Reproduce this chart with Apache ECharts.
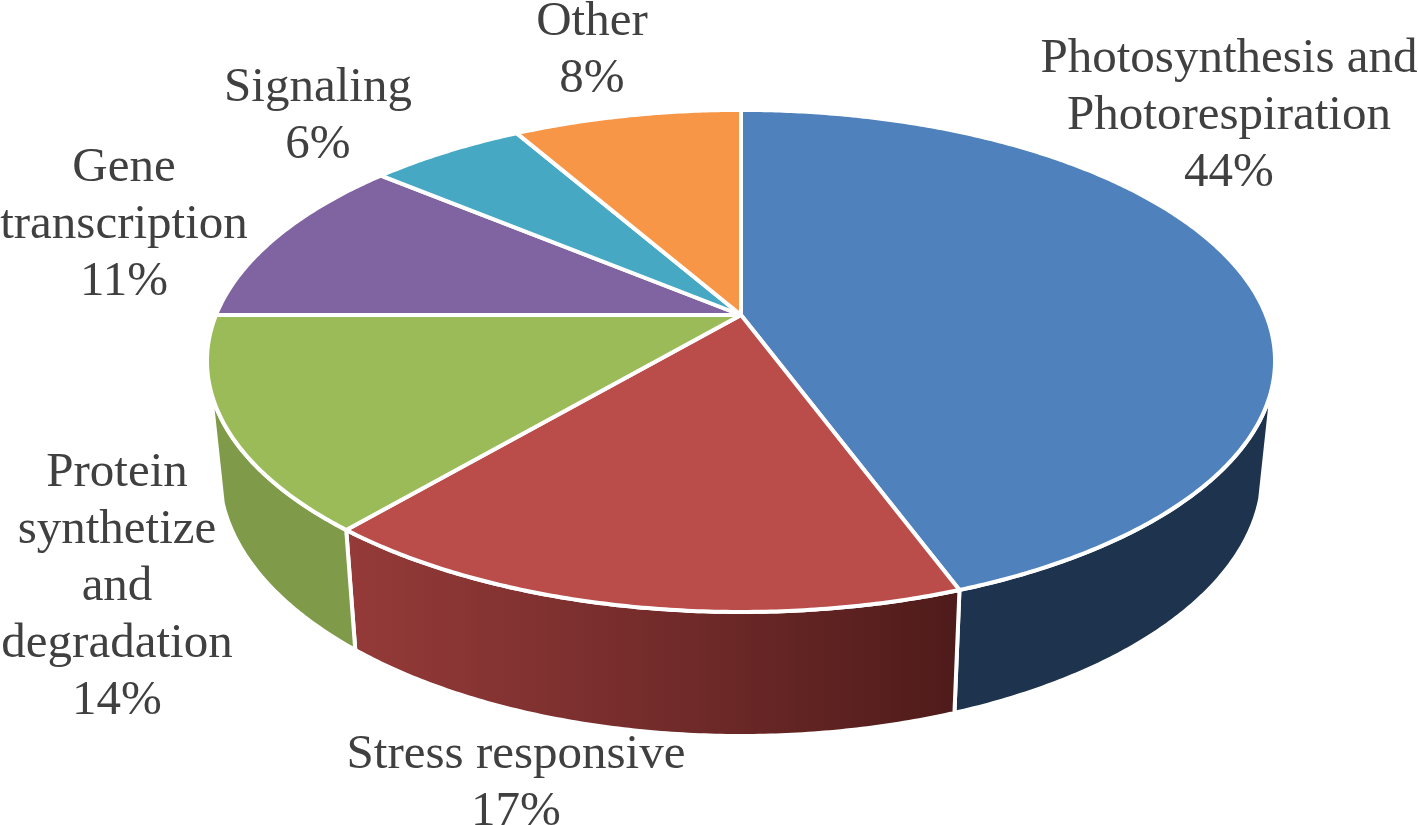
<!DOCTYPE html>
<html>
<head>
<meta charset="utf-8">
<style>html,body{margin:0;padding:0;background:#fff}#chart{width:1418px;height:825px}</style>
<script src="https://cdn.jsdelivr.net/npm/echarts@6/dist/echarts.min.js"></script>
</head>
<body>
<div id="chart"></div>
<script>
// data
var categories = ['Photosynthesis and\nPhotorespiration', 'Stress responsive', 'Protein\nsynthetize\nand\ndegradation', 'Gene\ntranscription', 'Signaling', 'Other'];
var values = [44.4, 16.8, 13.8, 11.1, 5.65, 8.25];
// styles
var topColors = ['#4f81bd', '#ba4c4a', '#9bbb59', '#8064a2', '#47a8c4', '#f79646'];
var wallColors = ['#1d334e',
  {type:'linear',x:0,y:0,x2:1,y2:0,colorStops:[{offset:0,color:'#953b39'},{offset:0.5,color:'#742c2b'},{offset:1,color:'#4e1b1a'}]},
  '#7f9b4a', null, null, null];
var labelX = [1229, 516, 117, 124, 318, 592];
var labelY = [116, 784, 587, 225, 117, 51];
var textFont = '49px "Liberation Serif"';

// projected pie geometry
var apex = [741, 315], scaleA = 525, scaleB = 242.6, persp = -0.183;
var wallFrom = 106, wallTo = 253;
var total = values.reduce(function (a, b) { return a + b; }, 0);
var toDeg = function (v) { return echarts.number.linearMap(v, [0, total], [0, 360]); };

function rim(deg) {
  var t = deg * Math.PI / 180, x = Math.sin(t), y = -Math.cos(t), d = 1 + persp * y;
  return [apex[0] + scaleA * x / d, apex[1] + scaleB * y / d];
}
function lowRim(deg) {
  var p = rim(deg);
  return [741 + 0.977 * (p[0] - apex[0]), p[1] + 109.5 + 0.049 * (p[1] - apex[1])];
}
function arc(fn, a, b) {
  var pts = [], n = Math.max(2, Math.ceil(Math.abs(b - a) * 2));
  for (var i = 0; i <= n; i++) pts.push(fn(a + (b - a) * i / n));
  return pts;
}

var rows = [], acc = 0;
values.forEach(function (v, i) { rows.push([acc, acc + v, i]); acc += v; });

var chart = echarts.init(document.getElementById('chart'), null, {renderer: 'canvas'});
chart.setOption({
  backgroundColor: '#fff',
  animation: false,
  series: [{
    type: 'custom',
    coordinateSystem: 'none',
    silent: true,
    data: rows,
    renderItem: function (params, api) {
      var a = toDeg(api.value(0)), b = toDeg(api.value(1)), i = api.value(2), children = [];
      var wa = Math.max(a, wallFrom), wb = Math.min(b, wallTo);
      if (wb > wa && wallColors[i]) {
        children.push({
          type: 'polygon', z2: 1,
          shape: {points: arc(rim, wa, wb).concat(arc(lowRim, wb, wa))},
          style: {fill: wallColors[i], stroke: '#fff', lineWidth: 4, lineJoin: 'round'}
        });
      }
      children.push({
        type: 'polygon', z2: 2,
        shape: {points: [apex].concat(arc(rim, a, b))},
        style: {fill: topColors[i], stroke: '#fff', lineWidth: 4, lineJoin: 'round'}
      });
      children.push({
        type: 'text', z2: 3,
        style: {
          x: labelX[i], y: labelY[i],
          text: categories[i] + '\n' + Math.round(values[i]) + '%',
          font: textFont, lineHeight: 57, align: 'center', verticalAlign: 'middle', fill: '#404040'
        }
      });
      return {type: 'group', children: children};
    }
  }]
});
</script>
</body>
</html>
